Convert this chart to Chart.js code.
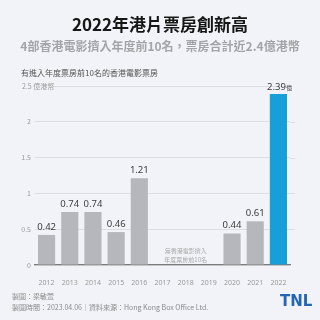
<!DOCTYPE html>
<html>
<head>
<meta charset="utf-8">
<script src="https://cdn.jsdelivr.net/npm/chart.js@4"></script>
<style>
  body { margin: 0; background: #f1f3f8; font-family: "Noto Sans CJK TC", "Noto Sans", sans-serif; }
  #wrap { position: relative; width: 320px; height: 320px; overflow: hidden; }
  #grafico { position: absolute; left: 0; top: 0; }
  .txt { position: absolute; white-space: nowrap; }
  #titulo { top: 11px; left: 0; width: 320px; text-align: center; font-size: 17px; font-weight: bold; color: #161616; }
  #subtitulo { top: 37px; left: 0; width: 320px; text-align: center; font-size: 12px; font-weight: bold; color: #a3a4a8; }
  #leyenda { top: 67px; left: 21px; font-size: 8px; color: #555; }
  #pie1 { top: 291px; left: 12px; font-size: 7px; color: #8a8a8a; }
  #pie2 { top: 302px; left: 12px; font-size: 7px; color: #8a8a8a; }
  #logo { top: 292px; left: 280px; font-family: "DejaVu Sans", sans-serif; font-size: 15px; font-weight: 900; color: #2466b5; letter-spacing: 0px; }
</style>
</head>
<body>
<div id="wrap">
  <canvas id="grafico" width="320" height="320"></canvas>
  <div class="txt" id="titulo">2022年港片票房創新高</div>
  <div class="txt" id="subtitulo">4部香港電影擠入年度前10名，票房合計近2.4億港幣</div>
  <div class="txt" id="leyenda">有進入年度票房前10名的香港電影票房</div>
  <div class="txt" id="pie1">製圖：梁敏萱</div>
  <div class="txt" id="pie2">製圖時間：2023.04.06｜資料來源：Hong Kong Box Office Ltd.</div>
  <div class="txt" id="logo">TNL</div>
</div>
<script>
// datos
let anios = ["2012", "2013", "2014", "2015", "2016", "2017", "2018", "2019", "2020", "2021", "2022"];
let taquilla = [0.42, 0.74, 0.74, 0.46, 1.21, null, null, null, 0.44, 0.61, 2.39];
let ticksY = [0, 0.5, 1, 1.5, 2, 2.5];
let notaVacia = ["無香港電影擠入", "年度票房前10名"];

let colores = anios.map(a => a === "2022" ? "#189fda" : "#b6b7bc");
let fondo = "#f1f3f8";

// prolonga la cuadricula un poco a la derecha
let cuadricula = {
  id: "cuadricula",
  beforeDatasetsDraw(chart) {
    let ctx = chart.ctx, y = chart.scales.y, area = chart.chartArea;
    ctx.save();
    ctx.strokeStyle = "#dcdee4";
    ctx.lineWidth = 1;
    ticksY.forEach(v => {
      if (v === 0 || v === 2.5) return;
      let py = Math.round(y.getPixelForValue(v)) + 0.5;
      ctx.beginPath();
      ctx.moveTo(area.right, py);
      ctx.lineTo(area.right + 5, py);
      ctx.stroke();
    });
    ctx.restore();
  }
};

// etiquetas encima de las barras, eje Y y nota
let etiquetas = {
  id: "etiquetas",
  afterDraw(chart) {
    let ctx = chart.ctx;
    let x = chart.scales.x, y = chart.scales.y;
    ctx.save();
    // eje y
    ctx.fillStyle = "#9a9a9a";
    ctx.font = "7px 'Noto Sans CJK TC'";
    ctx.textBaseline = "middle";
    ticksY.forEach(v => {
      let py = y.getPixelForValue(v);
      if (v === 2.5) {
        ctx.fillStyle = fondo;
        ctx.fillRect(20, py - 4, 32, 8);
        ctx.fillStyle = "#9a9a9a";
        ctx.textAlign = "left";
        ctx.fillText("2.5 億港幣", 22, py);
      } else {
        ctx.textAlign = "right";
        ctx.fillText(String(v), 31, py);
      }
    });
    // valores
    ctx.textAlign = "center";
    ctx.textBaseline = "alphabetic";
    taquilla.forEach((v, i) => {
      if (v === null) return;
      let px = x.getPixelForValue(i);
      let py = y.getPixelForValue(v) - 5;
      ctx.fillStyle = "#3c3c3c";
      if (i === anios.length - 1) {
        ctx.font = "9.5px 'Noto Sans', sans-serif";
        let w = ctx.measureText(String(v)).width;
        ctx.fillText(String(v), px - 2, py + 1);
        ctx.font = "6px 'Noto Sans CJK TC'";
        ctx.textAlign = "left";
        ctx.fillText("億", px - 2 + w / 2 + 0.5, py + 1);
        ctx.textAlign = "center";
      } else {
        ctx.font = "9.5px 'Noto Sans', sans-serif";
        ctx.fillText(String(v), px, py);
      }
    });
    // nota 2017-2019
    let cx = x.getPixelForValue(6);
    ctx.fillStyle = "#a8a8a8";
    ctx.font = "6px 'Noto Sans CJK TC'";
    ctx.fillText(notaVacia[0], cx, y.getPixelForValue(0) - 12);
    ctx.fillText(notaVacia[1], cx, y.getPixelForValue(0) - 3);
    ctx.restore();
  }
};

let ctx = document.getElementById("grafico").getContext("2d");
let grafico = new Chart(ctx, {
  type: "bar",
  data: {
    labels: anios,
    datasets: [{
      data: taquilla,
      backgroundColor: colores,
      barPercentage: 0.74,
      categoryPercentage: 1
    }]
  },
  options: {
    responsive: false,
    animation: false,
    layout: { padding: { top: 86, right: 30, bottom: 35, left: 0 } },
    plugins: { legend: { display: false }, tooltip: { enabled: false } },
    scales: {
      x: {
        grid: { display: false },
        border: { color: "#7c7c7c", width: 1.2 },
        ticks: { color: "#9a9a9a", font: { size: 7, family: "Noto Sans" }, padding: 6, maxRotation: 0 },
        afterFit(s) { s.height = 20; }
      },
      y: {
        min: 0,
        max: 2.5,
        ticks: { display: false, stepSize: 0.5 },
        grid: { color: "#dcdee4", drawTicks: false },
        border: { display: false },
        afterFit(s) { s.width = 35; }
      }
    }
  },
  plugins: [cuadricula, etiquetas]
});
</script>
</body>
</html>
